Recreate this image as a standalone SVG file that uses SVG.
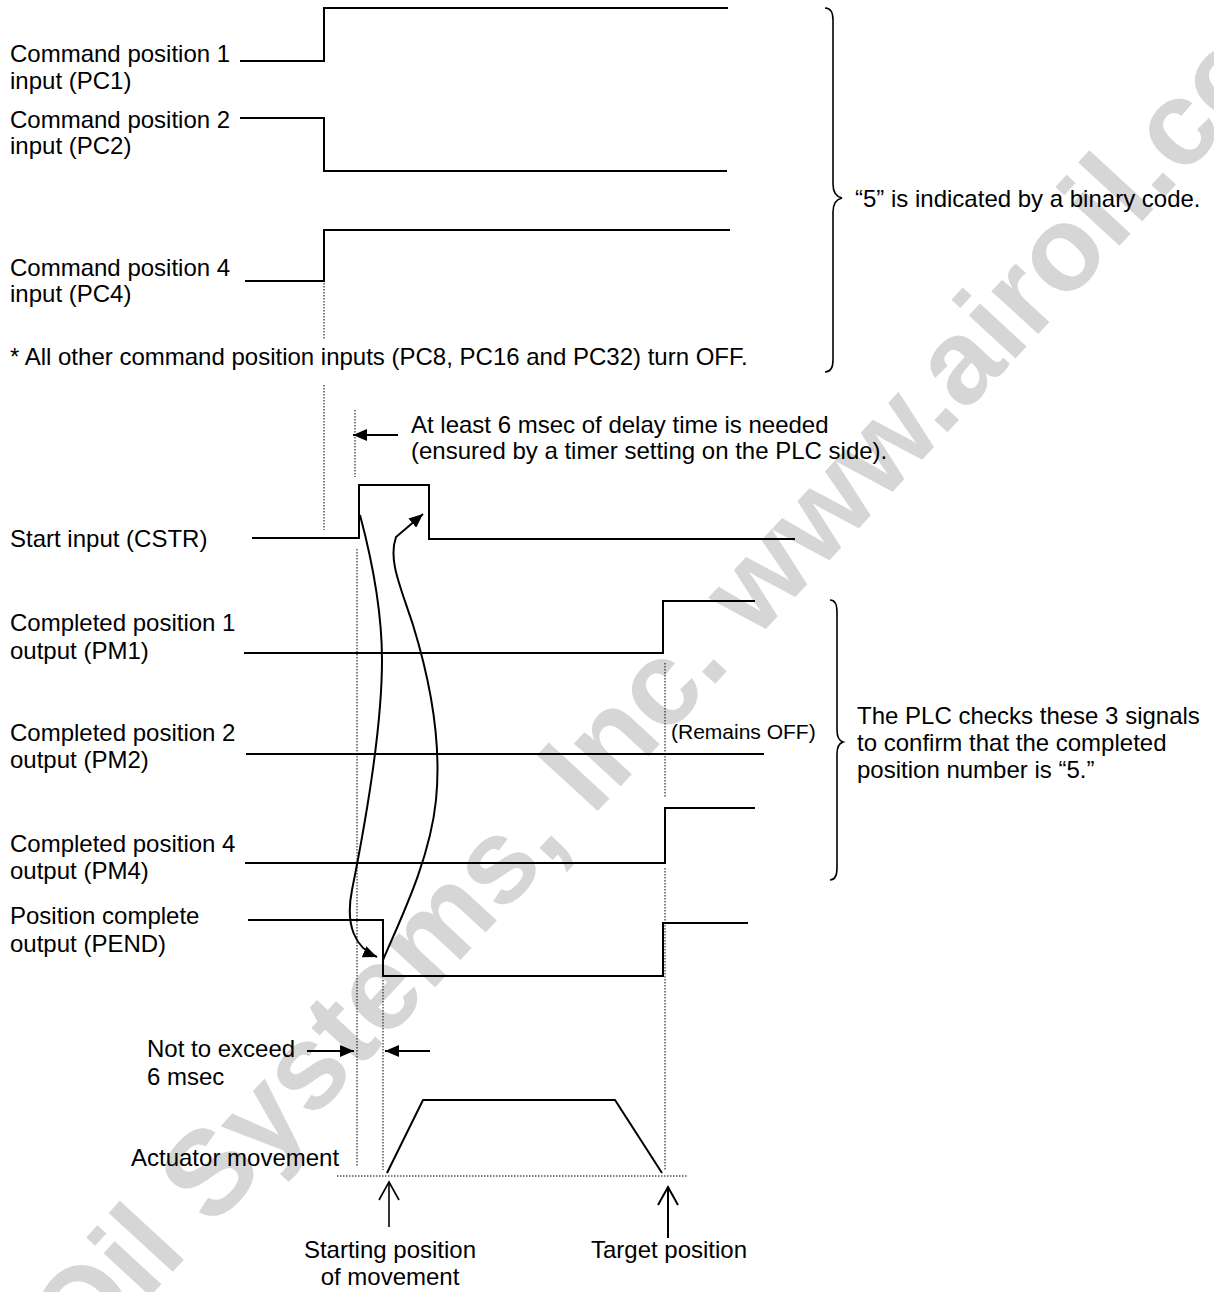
<svg xmlns="http://www.w3.org/2000/svg" width="1214" height="1292" viewBox="0 0 1214 1292">
<style>
.lbl{font-family:"Liberation Sans",Arial,sans-serif;font-size:24px;fill:#000}
.sm{font-size:21px}
.wave{fill:none;stroke:#000;stroke-width:2}
.thin{fill:none;stroke:#000;stroke-width:1.6}
.dot{fill:none;stroke:#000;stroke-width:1;stroke-dasharray:1.5 1.5}
.wm{font-family:"Liberation Sans",Arial,sans-serif;font-weight:bold;font-size:120px;fill:#d6d6d6}
</style>
<defs>
<marker id="ah" markerUnits="userSpaceOnUse" viewBox="0 0 14 12" markerWidth="14" markerHeight="12" refX="14" refY="6" orient="auto">
<path d="M0,0 L14,6 L0,12 Z" fill="#000"/>
</marker>
</defs>
<rect width="1214" height="1292" fill="#fff"/>
<g id="watermark">
<text class="wm" x="645" y="760" text-anchor="middle" transform="rotate(-47.3 645 760)">Air-Oil Systems, Inc. www.airoil.com</text>
</g>
<g id="pc1">
<text class="lbl" x="10" y="62">Command position 1</text>
<text class="lbl" x="10" y="89">input (PC1)</text>
<path class="wave" d="M240,61 H324 V8 H728"/>
</g>
<g id="pc2">
<text class="lbl" x="10" y="128">Command position 2</text>
<text class="lbl" x="10" y="154">input (PC2)</text>
<path class="wave" d="M240,118 H324 V171 H727"/>
</g>
<g id="pc4">
<text class="lbl" x="10" y="276">Command position 4</text>
<text class="lbl" x="10" y="302">input (PC4)</text>
<path class="wave" d="M245,281 H324 V230 H730"/>
</g>
<g id="note">
<text class="lbl" x="10" y="365">* All other command position inputs (PC8, PC16 and PC32) turn OFF.</text>
</g>
<g id="brace-binary">
<path class="thin" d="M825,8 Q833,8 833,20 L833,184 Q833,196 842,198 Q833,200 833,212 L833,360 Q833,372 825,372"/>
<text class="lbl" x="855" y="207">“5” is indicated by a binary code.</text>
</g>
<g id="delay-note">
<text class="lbl" x="411" y="433">At least 6 msec of delay time is needed</text>
<text class="lbl" x="411" y="459">(ensured by a timer setting on the PLC side).</text>
</g>
<g id="cstr">
<text class="lbl" x="10" y="547">Start input (CSTR)</text>
<path class="wave" d="M252,538 H359 V485 H429 V539 H795"/>
</g>
<g id="pm1">
<text class="lbl" x="10" y="631">Completed position 1</text>
<text class="lbl" x="10" y="659">output (PM1)</text>
<path class="wave" d="M244,653 H663 V601 H755"/>
</g>
<g id="pm2">
<text class="lbl" x="10" y="741">Completed position 2</text>
<text class="lbl" x="10" y="768">output (PM2)</text>
<path class="wave" d="M246,754 H764"/>
<text class="lbl sm" x="671" y="739">(Remains OFF)</text>
</g>
<g id="pm4">
<text class="lbl" x="10" y="852">Completed position 4</text>
<text class="lbl" x="10" y="879">output (PM4)</text>
<path class="wave" d="M245,863 H665 V808 H755"/>
</g>
<g id="brace-plc">
<path class="thin" d="M830,600 Q837,600 837,612 L837,730 Q837,740 843,742 Q837,744 837,754 L837,868 Q837,880 830,880"/>
<text class="lbl" x="857" y="724">The PLC checks these 3 signals</text>
<text class="lbl" x="857" y="751">to confirm that the completed</text>
<text class="lbl" x="857" y="778">position number is “5.”</text>
</g>
<g id="pend">
<text class="lbl" x="10" y="924">Position complete</text>
<text class="lbl" x="10" y="952">output (PEND)</text>
<path class="wave" d="M248,920 H383 V976 H663 V923 H748"/>
</g>
<g id="limit-note">
<text class="lbl" x="147" y="1057">Not to exceed</text>
<text class="lbl" x="147" y="1085">6 msec</text>
</g>
<g id="actuator">
<text class="lbl" x="131" y="1166">Actuator movement</text>
<polyline class="wave" points="387,1173 423,1100 615,1100 662,1173"/>
<line class="dot" x1="337" y1="1176" x2="687" y2="1176"/>
</g>
<g id="start-pos">
<text class="lbl" x="390" y="1258" text-anchor="middle">Starting position</text>
<text class="lbl" x="390" y="1285" text-anchor="middle">of movement</text>
</g>
<g id="target-pos">
<text class="lbl" x="669" y="1258" text-anchor="middle">Target position</text>
</g>
<g id="connectors">
<line class="dot" x1="324" y1="283" x2="324" y2="340"/>
<line class="dot" x1="324" y1="385" x2="324" y2="530"/>
<line class="dot" x1="355" y1="410" x2="355" y2="477"/>
<line class="dot" x1="357" y1="549" x2="357" y2="1166"/>
<line class="dot" x1="383" y1="980" x2="383" y2="1170"/>
<line class="dot" x1="665" y1="663" x2="665" y2="798"/>
<line class="dot" x1="665" y1="868" x2="665" y2="1170"/>
<line class="wave" x1="398" y1="435" x2="353" y2="435" marker-end="url(#ah)"/>
<line class="wave" x1="307" y1="1051" x2="354" y2="1051" marker-end="url(#ah)"/>
<line class="wave" x1="430" y1="1051" x2="385" y2="1051" marker-end="url(#ah)"/>
<path class="wave" d="M360,515 C372,560 382,610 382,660 C382,720 370,800 352,890 C345,925 355,948 377,957" marker-end="url(#ah)"/>
<path class="wave" d="M383,960 C400,920 430,860 436,800 C442,740 430,680 413,625 C400,585 388,560 396,537 L423,514" marker-end="url(#ah)"/>
<line class="thin" x1="389" y1="1227" x2="389" y2="1182"/>
<polyline class="thin" points="379,1200 389,1182 399,1200"/>
<line class="wave" x1="668" y1="1238" x2="668" y2="1187"/>
<polyline class="wave" points="658,1205 668,1187 678,1205"/>
</g>
</svg>
